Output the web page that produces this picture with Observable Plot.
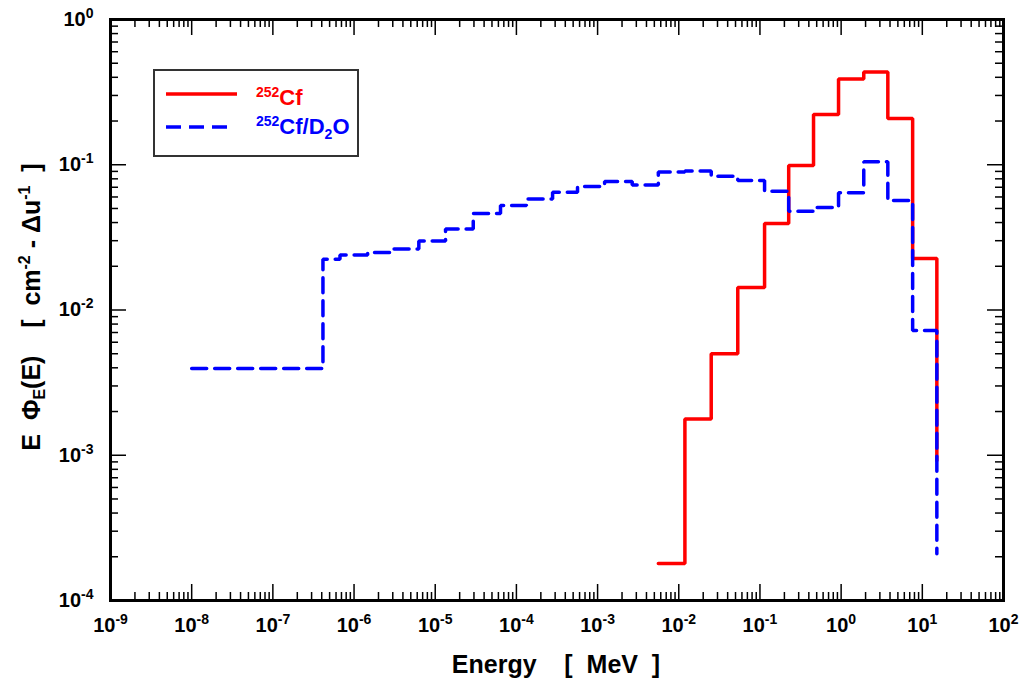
<!DOCTYPE html>
<html><head><meta charset="utf-8">
<script src="https://cdn.jsdelivr.net/npm/d3@7"></script>
<script src="https://cdn.jsdelivr.net/npm/@observablehq/plot@0.6"></script>
<style>
body{margin:0;background:#fff;}
#chart{position:relative;width:1023px;height:679px;}
svg text{white-space:pre;}
</style></head><body><div id="chart"></div>
<script>
// --- data (bin lower edges in MeV; last entry = upper edge of last bin with end value) ---
const cfEdges  = [5.6e-3, 1.19e-2, 2.51e-2, 5.33e-2, 0.114, 0.226, 0.457, 0.929, 1.9, 3.76, 7.6, 15.1];
const cfValues = [1.8e-4, 1.78e-3, 5.0e-3, 1.43e-2, 3.94e-2, 9.9e-2, 0.222, 0.39, 0.435, 0.208, 2.26e-2, 9.2e-4];

const d2oEdges  = [1e-8, 4.14e-7, 6.71e-7, 1.47e-6, 3.02e-6, 6.28e-6, 1.34e-5, 2.94e-5, 6.37e-5, 1.33e-4,
                   2.79e-4, 5.66e-4, 1.22e-3, 2.67e-3, 5.6e-3, 1.19e-2, 2.51e-2, 5.33e-2, 0.114, 0.226,
                   0.457, 0.929, 1.9, 3.76, 7.6, 15.1];
const d2oValues = [3.95e-3, 2.24e-2, 2.39e-2, 2.49e-2, 2.63e-2, 2.98e-2, 3.61e-2, 4.62e-2, 5.24e-2, 5.81e-2,
                   6.47e-2, 7.08e-2, 7.67e-2, 7.26e-2, 8.91e-2, 9.06e-2, 8.34e-2, 7.79e-2, 6.58e-2, 4.79e-2,
                   5.08e-2, 6.42e-2, 0.105, 5.67e-2, 7.22e-3, 2.1e-4];

const xTickExponents = [-9, -8, -7, -6, -5, -4, -3, -2, -1, 0, 1, 2];
const yTickExponents = [-4, -3, -2, -1, 0];

const seriesNames = ["252Cf", "252Cf/D2O"];
const xTitle = "Energy    [  MeV  ]";

// --- derived tables ---
const cf = cfEdges.map((e, i) => ({E: e, v: cfValues[i]}));
const d2o = d2oEdges.map((e, i) => ({E: e, v: d2oValues[i]}));
const xMajor = xTickExponents.map(k => Math.pow(10, k));
const yMajor = yTickExponents.map(k => Math.pow(10, k));
const minorOf = (exps) => exps.slice(0, -1).flatMap(k => [2,3,4,5,6,7,8,9].map(m => m * Math.pow(10, k)));
const xMinor = minorOf(xTickExponents);
const yMinor = minorOf(yTickExponents);

const W = 1023, H = 679, mL = 110, mR = 20, mT = 19, mB = 79;
const fw = W - mL - mR, fh = H - mT - mB;
const MAJ = 16, MIN = 8;
const tk = {stroke: "black", strokeWidth: 1.5};

const plot = Plot.plot({
  width: W, height: H,
  marginLeft: mL, marginRight: mR, marginTop: mT, marginBottom: mB,
  style: {fontFamily: "Arial, 'Liberation Sans', sans-serif", fontWeight: "bold", fontSize: "20px", color: "black", background: "white"},
  x: {type: "log", domain: [1e-9, 1e2]},
  y: {type: "log", domain: [1e-4, 1]},
  marks: [
    // ticks (inward on all four sides)
    Plot.tickX(xMajor, {x: d => d, insetTop: fh - MAJ, ...tk}),
    Plot.tickX(xMinor, {x: d => d, insetTop: fh - MIN, ...tk}),
    Plot.tickX(xMajor, {x: d => d, insetBottom: fh - MAJ, ...tk}),
    Plot.tickX(xMinor, {x: d => d, insetBottom: fh - MIN, ...tk}),
    Plot.tickY(yMajor, {y: d => d, insetRight: fw - MAJ, ...tk}),
    Plot.tickY(yMinor, {y: d => d, insetRight: fw - MIN, ...tk}),
    Plot.tickY(yMajor, {y: d => d, insetLeft: fw - MAJ, ...tk}),
    Plot.tickY(yMinor, {y: d => d, insetLeft: fw - MIN, ...tk}),
    Plot.line(cf, {x: "E", y: "v", curve: "step-after", stroke: "#ff0000", strokeWidth: 3.5, strokeLinejoin: "miter"}),
    Plot.line(d2o, {x: "E", y: "v", curve: "step-after", stroke: "#0000ff", strokeWidth: 3.5, strokeDasharray: "15,8", strokeLinejoin: "miter"}),
    Plot.frame({stroke: "black", strokeWidth: 3}),
    Plot.axisX({ticks: xMajor, tickSize: 0, tickPadding: 17, label: null, fontSize: 20, fontWeight: "bold",
                tickFormat: d => String(Math.round(Math.log10(d)))}),
    Plot.axisY({ticks: yMajor, tickSize: 0, tickPadding: 17, label: null, fontSize: 20, fontWeight: "bold",
                tickFormat: d => String(Math.round(Math.log10(d)))})
  ]
});
document.getElementById("chart").append(plot);

const svg = d3.select(plot);
// power-of-ten tick labels with superscripts
svg.selectAll('g[aria-label="x-axis tick label"] text, g[aria-label="y-axis tick label"] text').each(function() {
  const e = this.textContent;
  const t = d3.select(this);
  t.text(null);
  t.append("tspan").text("10");
  t.append("tspan").attr("dy", -8).attr("font-size", 14).text(e);
});

// axis titles
svg.append("text").attr("x", 556).attr("y", 673).attr("text-anchor", "middle")
  .attr("font-size", 25).attr("font-weight", "bold").attr("fill", "black").text(xTitle);

const yt = svg.append("text").attr("transform", "translate(40,307) rotate(-90)").attr("text-anchor", "middle")
  .attr("font-size", 25).attr("font-weight", "bold").attr("fill", "black");
yt.append("tspan").text("E  \u03A6");
yt.append("tspan").attr("font-size", 16).attr("dy", 5).text("E");
yt.append("tspan").attr("dy", -5).text("(E)    [  cm");
yt.append("tspan").attr("font-size", 16).attr("dy", -10).text("-2");
yt.append("tspan").attr("dy", 10).text(" - \u0394u");
yt.append("tspan").attr("font-size", 16).attr("dy", -10).text("-1");
yt.append("tspan").attr("dy", 10).text("  ]");

// legend
const lg = svg.append("g").attr("text-anchor", "start");
lg.append("rect").attr("x", 154).attr("y", 70).attr("width", 204).attr("height", 86)
  .attr("fill", "white").attr("stroke", "#333").attr("stroke-width", 2);
lg.append("line").attr("x1", 166).attr("x2", 237).attr("y1", 94).attr("y2", 94)
  .attr("stroke", "#ff0000").attr("stroke-width", 3.5);
lg.append("line").attr("x1", 166).attr("x2", 229).attr("y1", 127).attr("y2", 127)
  .attr("stroke", "#0000ff").attr("stroke-width", 3.5).attr("stroke-dasharray", "15,8");
const l1 = lg.append("text").attr("x", 256).attr("y", 105).attr("text-anchor", "start").attr("fill", "#ff0000").attr("font-size", 22).attr("font-weight", "bold");
l1.append("tspan").attr("font-size", 14).attr("dy", -8).text(seriesNames[0].slice(0, 3));
l1.append("tspan").attr("dy", 8).text(seriesNames[0].slice(3));
const l2 = lg.append("text").attr("x", 256).attr("y", 134).attr("text-anchor", "start").attr("fill", "#0000ff").attr("font-size", 22).attr("font-weight", "bold");
l2.append("tspan").attr("font-size", 14).attr("dy", -8).text(seriesNames[1].slice(0, 3));
l2.append("tspan").attr("dy", 8).text("Cf/D");
l2.append("tspan").attr("font-size", 14).attr("dy", 5).text("2");
l2.append("tspan").attr("dy", -5).text("O");
</script></body></html>
